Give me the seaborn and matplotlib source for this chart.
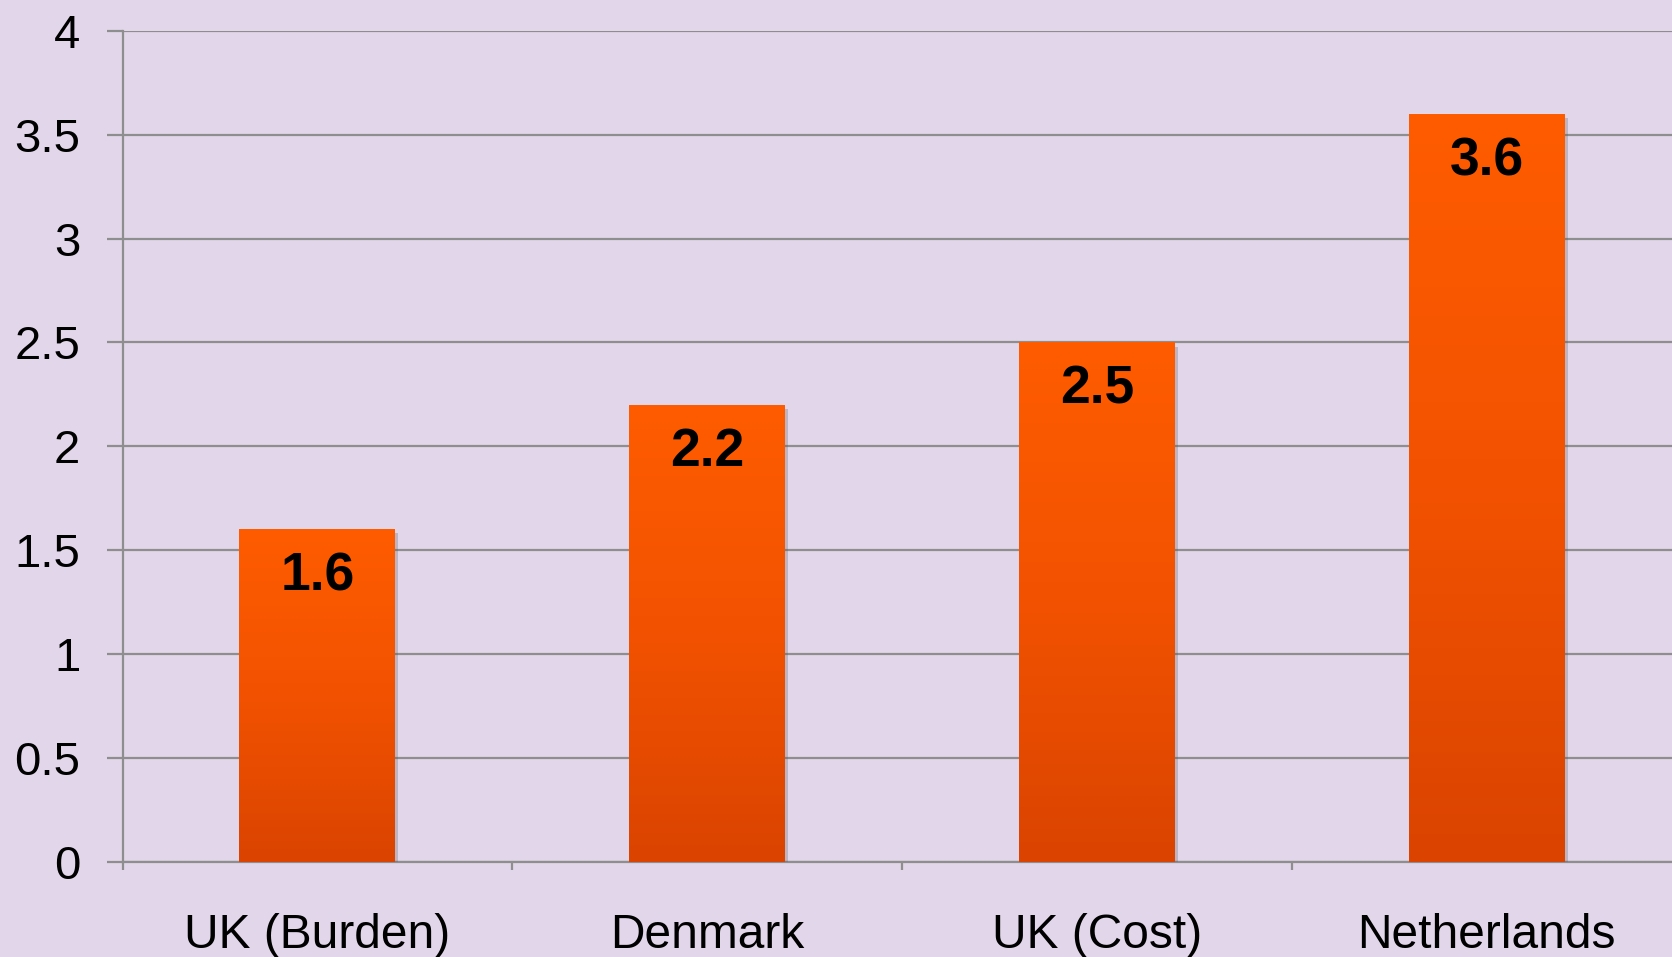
import numpy as np
import seaborn as sns
import matplotlib.pyplot as plt
import matplotlib.patheffects as pe
from matplotlib.colors import LinearSegmentedColormap

# ======================
# data

categories = ['UK (Burden)', 'Denmark', 'UK (Cost)', 'Netherlands']
values = [1.6, 2.2, 2.5, 3.6]
value_labels = ['1.6', '2.2', '2.5', '3.6']
y_ticks = [0, 0.5, 1, 1.5, 2, 2.5, 3, 3.5, 4]
y_ticklabels = ['0', '0.5', '1', '1.5', '2', '2.5', '3', '3.5', '4']

# ======================
# style

bg = '#E2D6EA'
grid_col = '#8E8E8E'
sns.set_theme(style='white', rc={'axes.facecolor': bg, 'figure.facecolor': bg})
plt.rcParams['font.family'] = ['Liberation Sans', 'DejaVu Sans']

fig = plt.figure(figsize=(16.72, 9.57), dpi=100)
ax = fig.add_axes([0.0733, 0.0997, 0.9325, 0.868])

sns.barplot(x=categories, y=values, width=0.4, color='#FF5A00',
            saturation=1, linewidth=0, edgecolor='none', ax=ax, zorder=3)

# gradient fill on each bar (bright orange at top, darker at bottom)
grad = LinearSegmentedColormap.from_list('bar', ['#DA4400', '#F25200', '#FF5C00'])
gimg = np.linspace(0, 1, 256).reshape(-1, 1)
for p in ax.patches:
    x0, w, h = p.get_x(), p.get_width(), p.get_height()
    p.set_path_effects([pe.SimplePatchShadow(offset=(2, -3), alpha=0.25,
                                              shadow_rgbFace='#555555'),
                        pe.Normal()])
    im = ax.imshow(gimg, cmap=grad, origin='lower', aspect='auto',
                   extent=[x0, x0 + w, 0, h], zorder=4)
    im.set_clip_path(p)

for i, (v, lab) in enumerate(zip(values, value_labels)):
    ax.annotate(lab, xy=(i, v), xytext=(0, -34), textcoords='offset points',
                ha='center', va='center', fontsize=38.5, fontweight='bold',
                color='black', zorder=6)

ax.set_xlim(-0.5, 3.5)
ax.set_ylim(0, 4)
ax.set_yticks(y_ticks)
ax.set_yticklabels(y_ticklabels)
ax.yaxis.grid(True, color=grid_col, linewidth=1.6, zorder=0)
ax.set_axisbelow(True)

ax.set_xticks(range(len(categories)))
ax.set_xticklabels(categories)
ax.set_xticks([-0.5, 0.5, 1.5, 2.5, 3.5], minor=True)
ax.tick_params(axis='x', which='major', length=0, pad=37, labelsize=34.5,
               labelcolor='black')
ax.tick_params(axis='x', which='minor', length=5.5, width=1.6,
               color=grid_col, direction='out', bottom=True)
ax.tick_params(axis='y', length=11.5, width=1.6, color=grid_col,
               direction='out', left=True, pad=19, labelsize=34,
               labelcolor='black')

for s in ['top', 'right']:
    ax.spines[s].set_visible(False)
ax.spines['left'].set_color(grid_col)
ax.spines['left'].set_linewidth(1.6)
ax.spines['bottom'].set_color(grid_col)
ax.spines['bottom'].set_linewidth(1.6)
ax.set_xlabel('')
ax.set_ylabel('')

plt.savefig('out.png', dpi=100, facecolor=bg)
plt.close()
